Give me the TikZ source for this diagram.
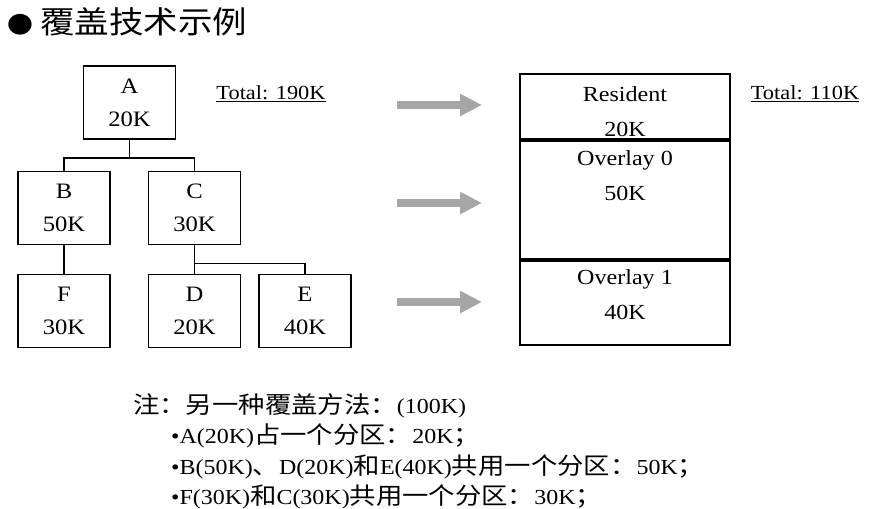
\documentclass[tikz,border=0pt]{standalone}
\usepackage{fontspec}
\setmainfont{Liberation Serif}[FakeStretch=1.12]
\newfontfamily\cjk{Noto Sans CJK SC}[FakeStretch=1.12,Scale=1.1]
\newcommand{\zh}[1]{{\cjk #1}}
\usetikzlibrary{arrows.meta}
\definecolor{arrowgray}{HTML}{A6A6A6}

\tikzset{
  modbox/.style={draw, line width=1.8pt, minimum width=92pt, minimum height=73pt,
    align=center, inner sep=0pt, font=\fontsize{22}{33}\selectfont},
  link/.style={line width=1.8pt},
  seg/.style={draw, line width=1.9pt, minimum width=210pt, inner sep=0pt, anchor=north},
  seglabel/.style={align=center, inner sep=0pt, font=\fontsize{21.5}{35}\selectfont},
  total/.style={font=\fontsize{20}{23}\selectfont},
  bigarrow/.style={draw=arrowgray, line width=8pt, -{Triangle[length=22pt,width=21pt]}},
  notetext/.style={anchor=base west, inner sep=0pt, font=\fontsize{21.4}{30}\selectfont},
}

\begin{document}
\begin{tikzpicture}[x=1pt,y=-1pt]
\useasboundingbox (0,0) rectangle (887,509);

% title
\node[anchor=west, inner sep=0pt, font=\fontsize{28}{34}\selectfont] (title) at (7,22)
  {\zh{{\fontsize{21}{21}\selectfont ●}\hspace{7pt}覆盖技术示例}};

% overlay tree
\node[modbox] (A) at (129.5,102.5) {A\\20K};
\node[modbox] (B) at (64,208) {B\\50K};
\node[modbox] (C) at (194.5,208) {C\\30K};
\node[modbox] (F) at (64,311) {F\\30K};
\node[modbox] (D) at (194.5,311) {D\\20K};
\node[modbox] (E) at (305,311) {E\\40K};
\draw[link] (A.south) -- ++(0,18) -| (B.north);
\draw[link] (A.south) -- ++(0,18) -| (C.north);
\draw[link] (B.south) -- (F.north);
\draw[link] (C.south) -- (D.north);
\draw[link] (C.south) -- ++(0,18) -| (E.north);
\node[total] (tot1) at (271,94) {\underline{Total: 190K}};

% arrows
\foreach \y [count=\i] in {105,203,302} {
  \coordinate (s\i) at (397,\y);
  \coordinate (t\i) at (482,\y);
  \draw[bigarrow] (s\i) -- (t\i);
}

% memory layout
\node[seglabel] (restext) at (625,112) {Resident\\20K};
\node[seglabel] (ov0text) at (625,176) {Overlay 0\\50K};
\node[seglabel] (ov1text) at (625,295) {Overlay 1\\40K};
\node[seg, minimum height=65pt] (res) at (625,73) {};
\node[seg, minimum height=118pt] (ov0) at (res.south) {};
\node[seg, minimum height=84pt] (ov1) at (ov0.south) {};
\node[total] (tot2) at (805,94) {\underline{Total: 110K}};

% note
\node[notetext] (note) at (133,413) {\zh{注：另一种覆盖方法：}(100K)};
\node[notetext] (n1) at (171,443) {•A(20K)\zh{占一个分区：}20K\zh{；}};
\node[notetext] (n2) at (171,474) {•B(50K)\zh{、}D(20K)\zh{和}E(40K)\zh{共用一个分区：}50K\zh{；}};
\node[notetext] (n3) at (171,504) {•F(30K)\zh{和}C(30K)\zh{共用一个分区：}30K\zh{；}};
\end{tikzpicture}
\end{document}
